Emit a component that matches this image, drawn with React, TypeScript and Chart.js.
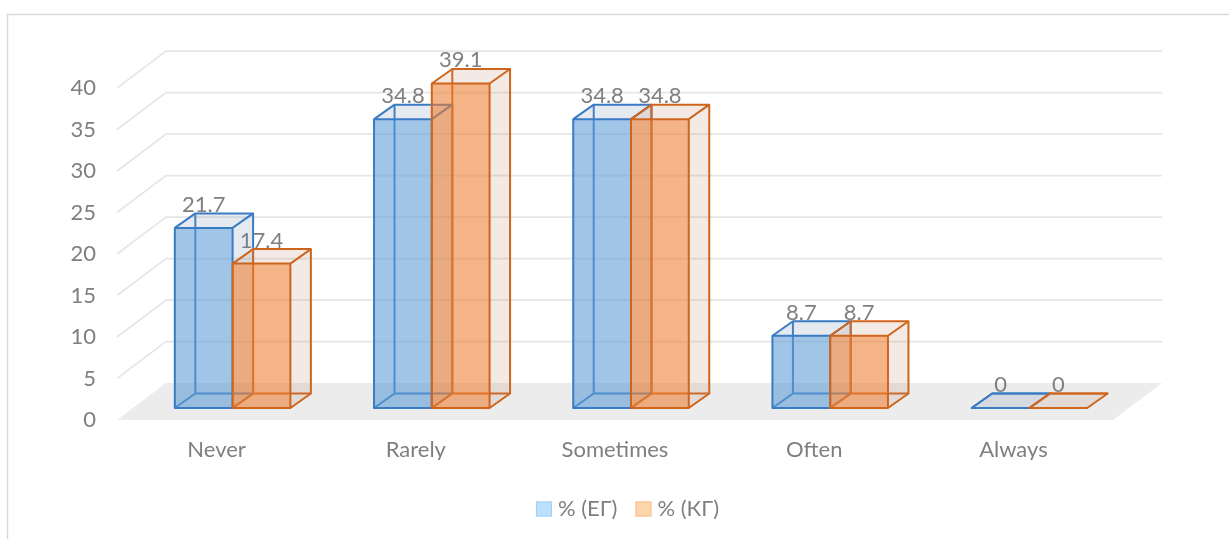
import React, { useEffect, useRef } from 'react';
import { Chart, registerables } from 'chart.js';

Chart.register(...registerables);

// ---- data ----
const categories = ['Never', 'Rarely', 'Sometimes', 'Often', 'Always'];
const seriesEG = [21.7, 34.8, 34.8, 8.7, 0];
const seriesKG = [17.4, 39.1, 34.8, 8.7, 0];
const seriesNames = ['% (ЕГ)', '% (КГ)'];
const yMin = 0;
const yMax = 40;
const yStep = 5;

// ---- style ----
const FONT = 'Lato, "Open Sans", sans-serif';
const FONT_SIZE = 22;
const TEXT = '#7f7f7f';

const BAR_SHIFT = { x: 16, y: -12 };
const BAR_DEPTH = { x: 20.5, y: -14.5 };
const WALL_DEPTH = { x: 49, y: -37 };
const LEGEND_CENTER_X = 627.5;
const LEGEND_CENTER_Y = 509;

const styles = [
  { face: 'rgba(91,155,213,0.58)', edge: '#3a7cc4', light: 'rgba(120,150,180,0.2)', legendFill: '#bfe0fb', legendEdge: '#a3d0f7' },
  { face: 'rgba(237,125,49,0.58)', edge: '#cf651c', light: 'rgba(190,140,110,0.18)', legendFill: '#fdd5ad', legendEdge: '#fbc18c' },
];

function geom(el: any) {
  const { x, y, base, width } = el.getProps(['x', 'y', 'base', 'width'], true);
  const l = x - width / 2;
  const r = x + width / 2;
  const t = Math.min(y, base);
  const b = Math.max(y, base);
  return { x, l, r, t, b, width };
}

function drawBackParts(ctx: any, el: any, st: any) {
  const D = BAR_DEPTH;
  const { l, r, t, b } = geom(el);
  ctx.strokeStyle = st.edge;
  ctx.lineWidth = 2;
  ctx.beginPath();
  ctx.moveTo(l, b);
  ctx.lineTo(l + D.x, b + D.y);
  ctx.lineTo(r + D.x, b + D.y);
  ctx.moveTo(l + D.x, b + D.y);
  ctx.lineTo(l + D.x, t + D.y);
  ctx.stroke();

  ctx.fillStyle = st.light;
  ctx.beginPath();
  ctx.moveTo(r, b);
  ctx.lineTo(r + D.x, b + D.y);
  ctx.lineTo(r + D.x, t + D.y);
  ctx.lineTo(r, t);
  ctx.closePath();
  ctx.fill();
  ctx.beginPath();
  ctx.moveTo(l, t);
  ctx.lineTo(l + D.x, t + D.y);
  ctx.lineTo(r + D.x, t + D.y);
  ctx.lineTo(r, t);
  ctx.closePath();
  ctx.fill();
}

function drawEdges(ctx: any, el: any, st: any) {
  const D = BAR_DEPTH;
  const { l, r, t, b } = geom(el);
  ctx.strokeStyle = st.edge;
  ctx.lineWidth = 2;
  ctx.beginPath();
  ctx.rect(l, t, r - l, b - t);
  ctx.moveTo(l, t);
  ctx.lineTo(l + D.x, t + D.y);
  ctx.lineTo(r + D.x, t + D.y);
  ctx.lineTo(r + D.x, b + D.y);
  ctx.lineTo(r, b);
  ctx.moveTo(r, t);
  ctx.lineTo(r + D.x, t + D.y);
  ctx.stroke();
}

const box3d = {
  id: 'box3d',
  beforeDraw(chart: any) {
    const { ctx, chartArea: a, scales } = chart;
    const ys = scales.y;
    const W = WALL_DEPTH;
    ctx.save();
    ctx.strokeStyle = '#d9d9d9';
    ctx.lineWidth = 1.5;
    ctx.strokeRect(7.5, 14.5, chart.width + 50, chart.height + 50);

    const y0 = ys.getPixelForValue(yMin);
    ctx.fillStyle = '#ececec';
    ctx.beginPath();
    ctx.moveTo(a.left, y0);
    ctx.lineTo(a.right, y0);
    ctx.lineTo(a.right + W.x, y0 + W.y);
    ctx.lineTo(a.left + W.x, y0 + W.y);
    ctx.closePath();
    ctx.fill();

    ctx.strokeStyle = '#e6e6e6';
    ctx.lineWidth = 1.75;
    ys.ticks.forEach((t: any) => {
      if (t.value === yMin) return;
      const py = ys.getPixelForValue(t.value);
      ctx.beginPath();
      ctx.moveTo(a.left, py);
      ctx.lineTo(a.left + W.x, py + W.y);
      ctx.lineTo(a.right + W.x, py + W.y);
      ctx.stroke();
    });
    ctx.restore();
  },
  // Chart.js draws datasets last-to-first; we draw them ourselves in index order
  beforeDatasetDraw() {
    return false;
  },
  afterDatasetsDraw(chart: any) {
    const { ctx } = chart;
    const n = chart.data.datasets.length;
    const metas = [];
    for (let i = 0; i < n; i++) metas.push(chart.getDatasetMeta(i));
    const count = chart.data.labels.length;
    ctx.save();
    ctx.translate(BAR_SHIFT.x, BAR_SHIFT.y);
    ctx.lineJoin = 'round';
    for (let j = 0; j < count; j++) {
      metas.forEach((meta: any, i: number) => {
        const el = meta.data[j];
        if (!el) return;
        const st = styles[i];
        drawBackParts(ctx, el, st);
        el.draw(ctx, chart.chartArea);
        drawEdges(ctx, el, st);
      });
    }
    ctx.restore();

    ctx.save();
    ctx.font = `${FONT_SIZE}px ${FONT}`;
    ctx.fillStyle = TEXT;
    ctx.textAlign = 'center';
    ctx.textBaseline = 'alphabetic';
    chart.data.datasets.forEach((ds: any, i: number) => {
      metas[i].data.forEach((el: any, j: number) => {
        const { x, t } = geom(el);
        ctx.fillText(String(ds.data[j]), x + BAR_SHIFT.x, t + BAR_SHIFT.y - 16);
      });
    });
    ctx.restore();
  },
  afterDraw(chart: any) {
    const { ctx } = chart;
    ctx.save();
    ctx.font = `${FONT_SIZE}px ${FONT}`;
    ctx.textBaseline = 'middle';
    ctx.textAlign = 'left';
    const boxW = 16;
    const boxH = 15;
    const gap = 6;
    const spacing = 18;
    const items = chart.data.datasets.map((ds: any, i: number) => ({ text: ds.label, st: styles[i] }));
    const widths = items.map((it: any) => boxW + gap + ctx.measureText(it.text).width);
    const total = widths.reduce((s: number, w: number) => s + w, 0) + spacing * (items.length - 1);
    let x = LEGEND_CENTER_X - total / 2;
    items.forEach((it: any, i: number) => {
      ctx.fillStyle = it.st.legendFill;
      ctx.fillRect(x, LEGEND_CENTER_Y - boxH / 2, boxW, boxH);
      ctx.strokeStyle = it.st.legendEdge;
      ctx.lineWidth = 1;
      ctx.strokeRect(x + 0.5, LEGEND_CENTER_Y - boxH / 2 + 0.5, boxW - 1, boxH - 1);
      ctx.fillStyle = TEXT;
      ctx.fillText(it.text, x + boxW + gap, LEGEND_CENTER_Y);
      x += widths[i] + spacing;
    });
    ctx.restore();
  },
};

export default function App() {
  const ref = useRef<HTMLCanvasElement | null>(null);
  useEffect(() => {
    if (!ref.current) return;
    const chart = new Chart(ref.current, {
      type: 'bar',
      data: {
        labels: categories,
        datasets: [
          { label: seriesNames[0], data: seriesEG, backgroundColor: styles[0].face, borderWidth: 0 },
          { label: seriesNames[1], data: seriesKG, backgroundColor: styles[1].face, borderWidth: 0 },
        ],
      },
      options: {
        responsive: true,
        maintainAspectRatio: false,
        animation: false,
        layout: { padding: { top: 88, right: 116, bottom: 79, left: 0 } },
        datasets: { bar: { categoryPercentage: 0.58, barPercentage: 1 } },
        plugins: { legend: { display: false }, tooltip: { enabled: false } },
        scales: {
          x: {
            grid: { display: false, drawTicks: false },
            border: { display: false },
            ticks: { color: TEXT, font: { family: FONT, size: FONT_SIZE }, padding: 17 },
            afterFit: (s: any) => { s.height = 40; },
          },
          y: {
            min: yMin,
            max: yMax,
            grid: { display: false, drawTicks: false },
            border: { display: false },
            ticks: { stepSize: yStep, color: TEXT, font: { family: FONT, size: FONT_SIZE }, padding: 21 },
            afterFit: (s: any) => { s.width = 117; },
          },
        },
      },
      plugins: [box3d],
    });
    return () => chart.destroy();
  }, []);
  return (
    <div style={{ position: 'fixed', left: 0, top: 0, width: 1229, height: 539, background: '#ffffff' }}>
      <canvas ref={ref} />
    </div>
  );
}
